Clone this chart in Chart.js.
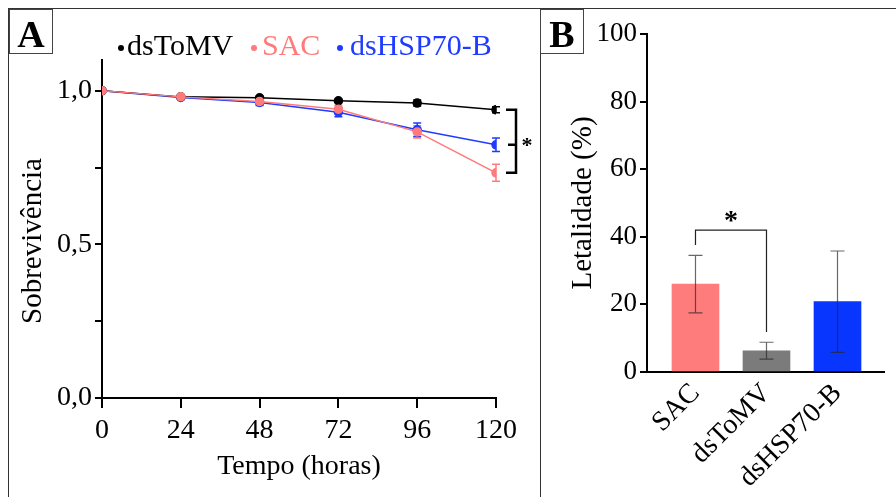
<!DOCTYPE html>
<html>
<head>
<meta charset="utf-8">
<script src="https://cdn.jsdelivr.net/npm/chart.js@4.4.0/dist/chart.umd.min.js"></script>
<style>
  body { margin: 0; background: #fff; width: 896px; height: 497px; overflow: hidden; position: relative; font-family: "Liberation Serif", serif; }
  .frame { position: absolute; left: 8px; top: 8px; width: 900px; height: 500px; border-top: 1px solid #333; border-left: 1px solid #333; }
  .divider { position: absolute; left: 540px; top: 8px; width: 1px; height: 500px; background: #333; }
  .tag { position: absolute; top: 9px; width: 42px; height: 43px; border: 1px solid #444; font: bold 38px "Liberation Serif", serif; text-align: center; line-height: 48px; background: #fff; }
  canvas { position: absolute; }
</style>
</head>
<body>
<div class="frame"></div>
<div class="divider"></div>
<canvas id="chartA" width="531" height="488" style="left:9px;top:9px"></canvas>
<canvas id="chartB" width="355" height="488" style="left:541px;top:9px"></canvas>
<div class="tag" style="left:9px">A</div>
<div class="tag" style="left:540px">B</div>
<script>
// Panel A - survival over time
const hours = [0, 24, 48, 72, 96, 120];
const survToMV = [1.0, 0.980, 0.977, 0.967, 0.960, 0.938];
const survSAC  = [1.0, 0.980, 0.965, 0.940, 0.866, 0.733];
const survHSP  = [1.0, 0.978, 0.962, 0.930, 0.873, 0.824];
const errToMV = [0, 0.004, 0.005, 0.005, 0.010, 0.010];
const errSAC  = [0, 0.005, 0.008, 0.012, 0.020, 0.028];
const errHSP  = [0, 0.005, 0.010, 0.015, 0.022, 0.022];
const yTicksA = [0, 0.5, 1.0];

// Panel B - lethality
const groups = ['SAC', 'dsToMV', 'dsHSP70-B'];
const lethality = [26, 6.3, 20.8];
const lethalitySd = [8.5, 2.5, 15];

const SERIF = '"Liberation Serif", "Times New Roman", serif';
const colToMV = '#000000';
const colSAC = '#FF7B7B';
const colHSP = '#1F3BFF';
const barColors = ['#FF7C7C', '#7B7B7B', '#0836FF'];

function pts(vals) {
    return hours.map((h, i) => ({ x: h, y: vals[i] }));
}

function lineSet(label, vals, errs, color, order) {
    return {
        label: label, data: pts(vals), errs: errs,
        borderColor: color, backgroundColor: color,
        borderWidth: 1.5, pointRadius: 4, pointHoverRadius: 4,
        tension: 0, order: order
    };
}

const errorBarsA = {
    id: 'errorBarsA',
    beforeDatasetsDraw(chart) {
        const ctx = chart.ctx;
        const xs = chart.scales.x, ys = chart.scales.y;
        ctx.save();
        chart.data.datasets.forEach(ds => {
            ctx.strokeStyle = ds.borderColor;
            ctx.lineWidth = 1.5;
            ds.data.forEach((p, i) => {
                const e = ds.errs[i];
                if (!e) return;
                const x = xs.getPixelForValue(p.x);
                const y1 = ys.getPixelForValue(p.y - e), y2 = ys.getPixelForValue(p.y + e);
                ctx.beginPath();
                ctx.moveTo(x, y1); ctx.lineTo(x, y2);
                ctx.moveTo(x - 4, y1); ctx.lineTo(x + 4, y1);
                ctx.moveTo(x - 4, y2); ctx.lineTo(x + 4, y2);
                ctx.stroke();
            });
        });
        ctx.restore();
    }
};

const legendItems = [
    { text: 'dsToMV', color: colToMV, dot: 112, tx: 118 },
    { text: 'SAC', color: colSAC, dot: 245, tx: 253 },
    { text: 'dsHSP70-B', color: colHSP, dot: 331, tx: 341 }
];

// legend row and y-axis title of panel A
const topLegend = {
    id: 'topLegend',
    afterDraw(chart) {
        const ctx = chart.ctx;
        ctx.save();
        ctx.font = '30px ' + SERIF;
        ctx.textBaseline = 'alphabetic';
        legendItems.forEach(it => {
            ctx.fillStyle = it.color;
            ctx.beginPath();
            ctx.arc(it.dot, 39, 3, 0, Math.PI * 2);
            ctx.fill();
            ctx.fillText(it.text, it.tx, 46);
        });
        ctx.fillStyle = '#000';
        ctx.font = '29px ' + SERIF;
        ctx.textAlign = 'center';
        ctx.textBaseline = 'middle';
        ctx.translate(24, 232);
        ctx.rotate(-Math.PI / 2);
        ctx.fillText('Sobrevivência', 0, 0);
        ctx.restore();
    }
};

const bracketA = {
    id: 'bracketA',
    afterDraw(chart) {
        const ctx = chart.ctx;
        const xs = chart.scales.x, ys = chart.scales.y;
        const last = hours.length - 1;
        const xv = xs.getPixelForValue(hours[last]) + 20;
        const yTop = ys.getPixelForValue(survToMV[last]);
        const yMid = ys.getPixelForValue(survHSP[last]);
        const yBot = ys.getPixelForValue(survSAC[last]);
        ctx.save();
        ctx.strokeStyle = '#000';
        ctx.lineWidth = 2.5;
        ctx.beginPath();
        ctx.moveTo(xv - 10, yTop); ctx.lineTo(xv, yTop); ctx.lineTo(xv, yBot); ctx.lineTo(xv - 10, yBot);
        ctx.moveTo(xv - 8, yMid); ctx.lineTo(xv, yMid);
        ctx.stroke();
        ctx.fillStyle = '#000';
        ctx.font = 'bold 22px ' + SERIF;
        ctx.textAlign = 'center';
        ctx.textBaseline = 'middle';
        ctx.fillText('*', xv + 11, yMid + 2);
        ctx.restore();
    }
};

new Chart(document.getElementById('chartA'), {
    type: 'line',
    data: {
        datasets: [
            lineSet('dsToMV', survToMV, errToMV, colToMV, 1),
            lineSet('SAC', survSAC, errSAC, colSAC, 0),
            lineSet('dsHSP70-B', survHSP, errHSP, colHSP, 2)
        ]
    },
    options: {
        responsive: false,
        animation: false,
        layout: { padding: { top: 51, right: 44, left: 0, bottom: 0 } },
        plugins: { legend: { display: false }, tooltip: { enabled: false } },
        scales: {
            x: {
                type: 'linear', min: 0, max: 120,
                border: { color: '#000', width: 2 },
                grid: { drawOnChartArea: false, tickLength: 10, color: '#000', lineWidth: 2 },
                ticks: { stepSize: 24, color: '#000', font: { family: SERIF, size: 28 }, padding: 6, maxRotation: 0 },
                title: { display: true, text: 'Tempo (horas)', color: '#000', font: { family: SERIF, size: 28 }, padding: { bottom: 14 } },
                afterFit(s) { s.height = 99; }
            },
            y: {
                min: 0, max: 1.1,
                border: { color: '#000', width: 2 },
                grid: { drawOnChartArea: false, tickLength: 7, color: '#000', lineWidth: 2 },
                ticks: {
                    stepSize: 0.25, includeBounds: false, color: '#000', padding: 3,
                    font: { family: SERIF, size: 28 },
                    callback: v => yTicksA.some(t => Math.abs(t - v) < 1e-6) ? v.toFixed(1).replace('.', ',') : ''
                },
                afterFit(s) { s.width = 93; }
            }
        }
    },
    plugins: [errorBarsA, topLegend, bracketA]
});

const errorBarsB = {
    id: 'errorBarsB',
    afterDatasetsDraw(chart) {
        const ctx = chart.ctx;
        const xs = chart.scales.x, ys = chart.scales.y;
        ctx.save();
        ctx.strokeStyle = 'rgba(40,40,40,0.7)';
        ctx.lineWidth = 1.2;
        lethality.forEach((v, i) => {
            const x = xs.getPixelForValue(i);
            const y1 = ys.getPixelForValue(v - lethalitySd[i]);
            const y2 = ys.getPixelForValue(v + lethalitySd[i]);
            ctx.beginPath();
            ctx.moveTo(x, y1); ctx.lineTo(x, y2);
            ctx.moveTo(x - 7, y1); ctx.lineTo(x + 7, y1);
            ctx.moveTo(x - 7, y2); ctx.lineTo(x + 7, y2);
            ctx.stroke();
        });
        ctx.restore();
    }
};

const bracketB = {
    id: 'bracketB',
    afterDraw(chart) {
        const ctx = chart.ctx;
        const xs = chart.scales.x, ys = chart.scales.y;
        const x0 = xs.getPixelForValue(0), x1 = xs.getPixelForValue(1);
        const top = ys.getPixelForValue(42);
        ctx.save();
        ctx.strokeStyle = '#222';
        ctx.lineWidth = 1.2;
        ctx.beginPath();
        ctx.moveTo(x0, ys.getPixelForValue(37.6));
        ctx.lineTo(x0, top); ctx.lineTo(x1, top);
        ctx.lineTo(x1, ys.getPixelForValue(11.8));
        ctx.stroke();
        ctx.fillStyle = '#000';
        ctx.font = 'bold 28px ' + SERIF;
        ctx.textAlign = 'center';
        ctx.textBaseline = 'middle';
        ctx.fillText('*', (x0 + x1) / 2, top - 8);
        ctx.restore();
    }
};

new Chart(document.getElementById('chartB'), {
    type: 'bar',
    data: {
        datasets: [{
            label: 'Letalidade',
            data: groups.map((g, i) => ({ x: i, y: lethality[i] })),
            backgroundColor: barColors,
            borderWidth: 0,
            barThickness: 47
        }]
    },
    options: {
        responsive: false,
        animation: false,
        layout: { padding: { top: 25, right: 12, left: 0, bottom: 0 } },
        plugins: { legend: { display: false }, tooltip: { enabled: false } },
        scales: {
            x: {
                type: 'linear', min: -0.683, max: 2.655, offset: false,
                border: { color: '#000', width: 2 },
                grid: { drawOnChartArea: false, drawTicks: false, offset: false },
                ticks: {
                    stepSize: 1, includeBounds: false, autoSkip: false,
                    minRotation: 45, maxRotation: 45, padding: 5,
                    color: '#000', font: { family: SERIF, size: 28 },
                    callback: v => groups[v] !== undefined ? groups[v] : ''
                },
                afterFit(s) { s.height = 125; }
            },
            y: {
                min: 0, max: 100,
                border: { color: '#000', width: 2 },
                grid: { drawOnChartArea: false, tickLength: 7, color: '#000', lineWidth: 2 },
                ticks: { stepSize: 20, color: '#000', padding: 3, font: { family: SERIF, size: 27 } },
                title: { display: true, text: 'Letalidade (%)', color: '#000', font: { family: SERIF, size: 29 }, padding: { top: 25 } },
                afterFit(s) { s.width = 106; }
            }
        }
    },
    plugins: [errorBarsB, bracketB]
});
</script>
</body>
</html>
